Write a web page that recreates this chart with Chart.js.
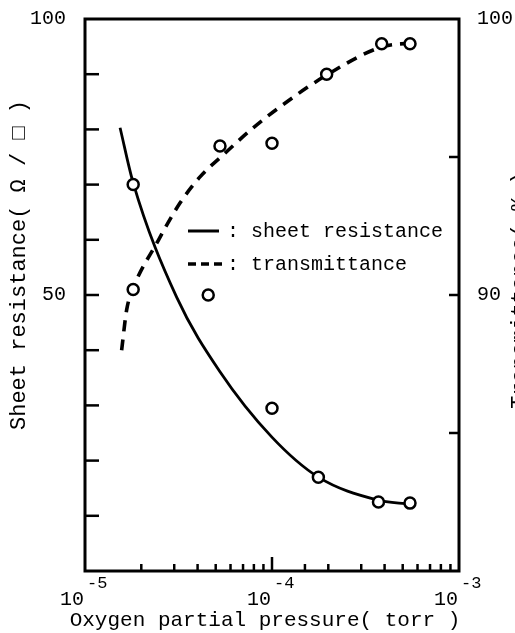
<!DOCTYPE html>
<html>
<head>
<meta charset="utf-8">
<script src="https://cdn.jsdelivr.net/npm/chart.js@4.4.1/dist/chart.umd.min.js"></script>
<style>
  html, body { margin: 0; padding: 0; background: #fff; }
  #wrap { width: 515px; height: 633px; }
</style>
</head>
<body>
<div id="wrap"><canvas id="plot" width="515" height="633"></canvas></div>
<script>
// measured points (pressure in torr)
const pressR = [1.81e-5, 4.56e-5, 1.0e-4, 1.77e-4, 3.71e-4, 5.47e-4];
const resistance = [70, 50, 29.5, 17, 12.5, 12.3];
const pressT = [1.81e-5, 5.27e-5, 1.0e-4, 1.96e-4, 3.86e-4, 5.47e-4];
const transmittance = [90.2, 95.4, 95.5, 98.0, 99.1, 99.1];

// hand-drawn trend curves
const curveRx = [1.54e-5, 1.81e-5, 3.09e-5, 5.27e-5, 9.96e-5, 1.77e-4, 3.63e-4, 5.47e-4];
const curveRy = [80.3, 70.3, 49.6, 36.1, 24.3, 17.0, 12.9, 12.1];
const curveTx = [1.57e-5, 1.67e-5, 1.81e-5, 2.42e-5, 3.22e-5, 4.12e-5, 5.61e-5, 7.91e-5, 1.10e-4, 1.96e-4, 3.87e-4, 5.47e-4];
const curveTy = [88.0, 89.46, 90.25, 91.88, 93.33, 94.28, 95.14, 96.05, 96.81, 97.97, 98.99, 99.13];

// axis labels
const decadeVals = [1e-5, 1e-4, 1e-3];
const decadeExps = ['-5', '-4', '-3'];
const leftLabels = [50, 100];
const rightLabels = [90, 100];

const FONT = '"Liberation Mono", "Courier New", monospace';
Chart.defaults.font.family = FONT;
Chart.defaults.font.size = 20;
Chart.defaults.color = '#000';

const pairs = (xs, ys) => xs.map((x, i) => ({ x: x, y: ys[i] }));

// box, inward tick marks
const frame = {
    id: 'frame',
    beforeDatasetsDraw(chart) {
        const { ctx, chartArea: a, scales } = chart;
        ctx.save();
        ctx.strokeStyle = '#000';
        ctx.lineCap = 'butt';

        ctx.lineWidth = 2.5;
        scales.y.ticks.forEach(t => {
            if (t.value <= 0 || t.value >= 100) return;
            const py = scales.y.getPixelForValue(t.value);
            ctx.beginPath(); ctx.moveTo(a.left, py); ctx.lineTo(a.left + 14, py); ctx.stroke();
        });
        scales.y2.ticks.forEach(t => {
            if (t.value <= 80 || t.value >= 100) return;
            const py = scales.y2.getPixelForValue(t.value);
            ctx.beginPath(); ctx.moveTo(a.right, py); ctx.lineTo(a.right - 10, py); ctx.stroke();
        });
        scales.x.ticks.forEach(t => {
            const px = scales.x.getPixelForValue(t.value);
            if (px <= a.left + 1 || px >= a.right - 1) return;
            const len = t.major ? 14 : 7;
            ctx.beginPath(); ctx.moveTo(px, a.bottom); ctx.lineTo(px, a.bottom - len); ctx.stroke();
        });

        ctx.lineWidth = 3;
        ctx.strokeRect(a.left, a.top, a.right - a.left, a.bottom - a.top);
        ctx.restore();
    }
};

// decade labels, axis titles, key
const annotate = {
    id: 'annotate',
    afterDraw(chart) {
        const { ctx, chartArea: a, scales } = chart;
        ctx.save();
        ctx.fillStyle = '#000';

        decadeVals.forEach((v, i) => {
            const px = scales.x.getPixelForValue(v);
            ctx.font = '20px ' + FONT;
            ctx.textAlign = 'right';
            ctx.textBaseline = 'alphabetic';
            ctx.fillText('10', px - 1, 605);
            ctx.font = '17px ' + FONT;
            ctx.textAlign = 'left';
            ctx.fillText(decadeExps[i], px + 2, 588);
        });

        ctx.font = '21px ' + FONT;
        ctx.textAlign = 'center';
        ctx.textBaseline = 'middle';
        ctx.fillText('Oxygen partial pressure( torr )', 265, 620);

        ctx.save();
        ctx.translate(19, 265);
        ctx.rotate(-Math.PI / 2);
        ctx.font = '22px ' + FONT;
        ctx.fillText('Sheet resistance( \u03A9 / \u25A1 )', 0, 0);
        ctx.restore();

        ctx.save();
        ctx.translate(520, 290);
        ctx.rotate(-Math.PI / 2);
        ctx.font = '22px ' + FONT;
        ctx.fillText('Transmittance( % )', 0, 0);
        ctx.restore();

        // key
        const kx = a.left + 103, ky1 = a.top + 212, ky2 = a.top + 245;
        ctx.lineWidth = 3;
        ctx.beginPath(); ctx.moveTo(kx, ky1); ctx.lineTo(kx + 31, ky1); ctx.stroke();
        ctx.setLineDash([8, 5]);
        ctx.lineWidth = 3.5;
        ctx.beginPath(); ctx.moveTo(kx, ky2); ctx.lineTo(kx + 34, ky2); ctx.stroke();
        ctx.setLineDash([]);
        ctx.font = '20px ' + FONT;
        ctx.textAlign = 'left';
        ctx.fillText(': sheet resistance', kx + 39, ky1 + 1);
        ctx.fillText(': transmittance', kx + 39, ky2 + 1);
        ctx.restore();
    }
};

const pointStyle = {
    showLine: false,
    pointStyle: 'circle',
    pointRadius: 5.5,
    pointBorderWidth: 2.5,
    pointBorderColor: '#000',
    pointBackgroundColor: '#fff',
    order: 0
};

// no label overhang padding on the value axes
const noOverhang = s => { s.paddingTop = 0; s.paddingBottom = 0; };

new Chart(document.getElementById('plot'), {
    type: 'scatter',
    data: {
        datasets: [
            Object.assign({ label: 'sheet resistance', data: pairs(pressR, resistance), yAxisID: 'y' }, pointStyle),
            Object.assign({ label: 'transmittance', data: pairs(pressT, transmittance), yAxisID: 'y2' }, pointStyle),
            {
                label: 'sheet resistance curve', data: pairs(curveRx, curveRy), yAxisID: 'y',
                showLine: true, borderColor: '#000', borderWidth: 2.8, pointRadius: 0,
                cubicInterpolationMode: 'monotone', order: 1
            },
            {
                label: 'transmittance curve', data: pairs(curveTx, curveTy), yAxisID: 'y2',
                showLine: true, borderColor: '#000', borderWidth: 3.6, borderDash: [11, 8], pointRadius: 0,
                cubicInterpolationMode: 'monotone', order: 1
            }
        ]
    },
    options: {
        responsive: false,
        animation: false,
        devicePixelRatio: 1,
        layout: { padding: { top: 19, left: 0, right: 0, bottom: 0 } },
        plugins: { legend: { display: false }, tooltip: { enabled: false } },
        scales: {
            x: {
                type: 'logarithmic', min: 1e-5, max: 1e-3, position: 'bottom',
                grid: { display: false, drawTicks: false },
                border: { display: false },
                ticks: { display: false, autoSkip: false },
                afterFit: s => { s.height = 62; s.paddingLeft = 0; s.paddingRight = 0; }
            },
            y: {
                type: 'linear', position: 'left', min: 0, max: 100,
                grid: { display: false, drawTicks: false },
                border: { display: false },
                ticks: {
                    stepSize: 10, padding: 19, font: { size: 20 },
                    callback: v => leftLabels.includes(v) ? String(v) : ''
                },
                afterFit: s => { s.width = 85; noOverhang(s); }
            },
            y2: {
                type: 'linear', position: 'right', min: 80, max: 100,
                grid: { display: false, drawTicks: false },
                border: { display: false },
                ticks: {
                    stepSize: 5, padding: 18, font: { size: 20 },
                    callback: v => rightLabels.includes(v) ? String(v) : ''
                },
                afterFit: s => { s.width = 56; noOverhang(s); }
            }
        }
    },
    plugins: [frame, annotate]
});
</script>
</body>
</html>
